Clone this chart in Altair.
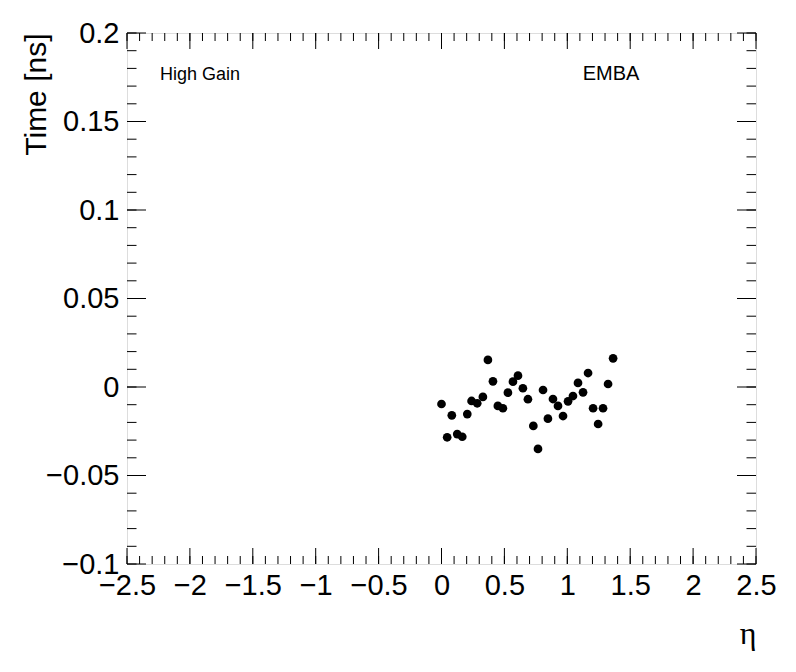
import altair as alt
import pandas as pd

# ---- data ----
eta = [0.000, 0.045, 0.082, 0.125, 0.165, 0.205, 0.239, 0.284, 0.329, 0.369,
       0.409, 0.448, 0.488, 0.528, 0.568, 0.608, 0.647, 0.687, 0.730, 0.767,
       0.807, 0.846, 0.886, 0.926, 0.966, 1.006, 1.045, 1.085, 1.125, 1.165,
       1.205, 1.245, 1.284, 1.324, 1.364]
time_ns = [-0.0096, -0.0284, -0.0160, -0.0266, -0.0281, -0.0153, -0.0079, -0.0092, -0.0056, 0.0153,
           0.0032, -0.0107, -0.0120, -0.0032, 0.0030, 0.0064, -0.0007, -0.0069, -0.0220, -0.0350,
           -0.0017, -0.0179, -0.0068, -0.0107, -0.0164, -0.0081, -0.0051, 0.0023, -0.0030, 0.0079,
           -0.0120, -0.0209, -0.0120, 0.0017, 0.0162]

x_major = [-2.5, -2.0, -1.5, -1.0, -0.5, 0.0, 0.5, 1.0, 1.5, 2.0, 2.5]
y_major = [-0.1, -0.05, 0.0, 0.05, 0.1, 0.15, 0.2]
x_minor = [round(-2.5 + 0.1 * i, 2) for i in range(51)]
y_minor = [round(-0.1 + 0.01 * i, 3) for i in range(31)]

gain_text = ["High Gain"]
gain_x = [-2.238]
gain_y = [0.1737]
part_text = ["EMBA"]
part_x = [1.122]
part_y = [0.1737]

W, H = 629, 531
FONT = "Liberation Sans"

xscale = alt.Scale(domain=[-2.5, 2.5], nice=False, zero=False)
yscale = alt.Scale(domain=[-0.1, 0.2], nice=False, zero=False)

x_axis = alt.Axis(
    values=x_major, format="~g", ticks=False, tickSize=0, domain=False, grid=False,
    labelFont=FONT, labelFontSize=29, labelColor="black", labelPadding=7,
    labelFlush=False, labelOverlap=False, labelBound=False, labelBaseline="top",
    title="η", titleFont="Liberation Serif", titleFontSize=32, titleFontWeight="normal",
    titleColor="black", titleAlign="right", titleAnchor="end", titleX=W, titleY=79,
    titleBaseline="alphabetic")
y_axis = alt.Axis(
    values=y_major, format="~g", ticks=False, tickSize=0, domain=False, grid=False,
    labelFont=FONT, labelFontSize=29, labelColor="black", labelPadding=8,
    labelFlush=False, labelOverlap=False, labelBound=False,
    title="Time [ns]", titleFont=FONT, titleFontSize=30, titleFontWeight="normal",
    titleColor="black", titleAngle=270, titleAlign="right", titleAnchor="end",
    titleX=-82, titleY=0, titleBaseline="alphabetic")

df = pd.DataFrame({"eta": eta, "t": time_ns})

points = alt.Chart(df).mark_circle(size=76, color="black", opacity=1).encode(
    x=alt.X("eta:Q", scale=xscale, axis=x_axis),
    y=alt.Y("t:Q", scale=yscale, axis=y_axis),
)

def tick_layer(vals, axis_ch, side, length):
    d = pd.DataFrame({"v": vals})
    base = alt.Chart(d).mark_rule(color="black", strokeWidth=1)
    if axis_ch == "x":
        if side == "bottom":
            y, y2 = H, H - length
        else:
            y, y2 = 0, length
        return base.encode(x=alt.X("v:Q", scale=xscale, axis=x_axis),
                           y=alt.value(y), y2=alt.value(y2))
    else:
        if side == "left":
            x, x2 = 0, length
        else:
            x, x2 = W, W - length
        return base.encode(y=alt.Y("v:Q", scale=yscale, axis=y_axis),
                           x=alt.value(x), x2=alt.value(x2))

ticks = [
    tick_layer(x_major, "x", "bottom", 16), tick_layer(x_minor, "x", "bottom", 8),
    tick_layer(x_major, "x", "top", 16), tick_layer(x_minor, "x", "top", 8),
    tick_layer(y_major, "y", "left", 19), tick_layer(y_minor, "y", "left", 9.5),
    tick_layer(y_major, "y", "right", 19), tick_layer(y_minor, "y", "right", 9.5),
]

def text_layer(txt, xs, ys, fs):
    d = pd.DataFrame({"txt": txt, "x": xs, "y": ys})
    return alt.Chart(d).mark_text(font=FONT, fontSize=fs, color="black",
                                  align="left", baseline="alphabetic").encode(
        x=alt.X("x:Q", scale=xscale, axis=x_axis),
        y=alt.Y("y:Q", scale=yscale, axis=y_axis),
        text="txt:N",
    )

texts = [text_layer(gain_text, gain_x, gain_y, 18),
         text_layer(part_text, part_x, part_y, 20)]

chart = alt.layer(points, *ticks, *texts).properties(
    width=W, height=H,
    autosize=alt.AutoSizeParams(type="none"),
    padding={"left": 119, "top": 25, "right": 32, "bottom": 92},
).configure_view(stroke="black", strokeWidth=1, fill="white").configure(background="white")

chart.save("out.html", embed_options={"renderer": "svg", "actions": False})
